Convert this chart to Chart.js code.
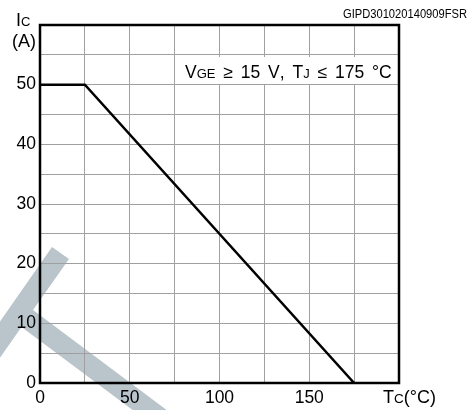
<!DOCTYPE html>
<html>
<head>
<meta charset="utf-8">
<script src="https://cdn.jsdelivr.net/npm/chart.js@4.4.0/dist/chart.umd.min.js"></script>
<style>
  html, body { margin: 0; padding: 0; background: #fff; }
  #chart { display: block; }
</style>
</head>
<body>
<canvas id="chart" width="470" height="410"></canvas>
<script>
// derating curve: collector current vs case temperature
const caseTemp = [0, 25, 175];
const collectorCurrent = [50, 50, 0];

// which grid lines get a number under / beside them
const xTickLabels = [0, 50, 100, 150];
const yTickLabels = [0, 10, 20, 30, 40, 50];

const FONT = '"Liberation Sans", Arial, sans-serif';

function font(size) {
    return size + 'px ' + FONT;
}

// draw text pieces of different sizes on one baseline,
// spaces get `gap` extra pixels
function drawRuns(ctx, runs, x, y, gap = 0) {
    runs.forEach(([text, size]) => {
        ctx.font = font(size);
        for (const ch of text) {
            ctx.fillText(ch, x, y);
            x += ctx.measureText(ch).width + (ch === ' ' ? gap : 0);
        }
    });
    return x;
}

const decorations = {
    id: 'decorations',
    beforeDraw(chart) {
        const ctx = chart.ctx;
        ctx.save();
        ctx.fillStyle = '#fff';
        ctx.fillRect(0, 0, chart.width, chart.height);
        // logo stroke in the lower left
        ctx.fillStyle = '#b9c5cb';
        ctx.beginPath();
        ctx.moveTo(52, 247);
        ctx.lineTo(69, 259);
        ctx.lineTo(33, 310);
        ctx.lineTo(180, 420);
        ctx.lineTo(150, 423);
        ctx.lineTo(21.5, 327);
        ctx.lineTo(-5, 365);
        ctx.lineTo(-22, 353);
        ctx.closePath();
        ctx.fill();
        ctx.restore();
    },
    afterDraw(chart) {
        const ctx = chart.ctx;
        const a = chart.chartArea;
        ctx.save();

        // condition box
        ctx.fillStyle = '#fff';
        ctx.fillRect(176, 57, a.right - 177, 27);
        ctx.fillStyle = '#000';
        ctx.textBaseline = 'alphabetic';
        drawRuns(ctx, [['V', 17.5], ['GE', 13], [' \u2265 15 V, T', 17.5], ['J', 13], [' \u2264 175 \u00b0C', 17.5]], 185, 78, 3);

        // frame
        ctx.strokeStyle = '#000';
        ctx.lineWidth = 2.5;
        ctx.strokeRect(a.left, a.top, a.right - a.left, a.bottom - a.top);

        // axis titles
        drawRuns(ctx, [['I', 18], ['C', 13]], 16, 26);
        ctx.font = font(18);
        ctx.fillText('(A)', 12, 47);
        drawRuns(ctx, [['T', 18], ['C', 13.5], ['(\u00b0C)', 18]], 383, 403);

        // figure code
        ctx.font = font(12.5);
        ctx.textAlign = 'right';
        ctx.fillText('GIPD301020140909FSR', 467, 18, 124);
        ctx.restore();
    }
};

const ctx = document.getElementById('chart');
const chart = new Chart(ctx, {
    type: 'line',
    data: {
        datasets: [{
            data: caseTemp.map((t, i) => ({x: t, y: collectorCurrent[i]})),
            borderColor: '#000',
            borderWidth: 2.5,
            pointRadius: 0,
            fill: false,
            tension: 0
        }]
    },
    options: {
        responsive: false,
        animation: false,
        layout: {
            padding: {top: 25, right: 71, left: 0, bottom: 0}
        },
        plugins: {
            legend: {display: false},
            tooltip: {enabled: false}
        },
        scales: {
            x: {
                type: 'linear',
                min: 0,
                max: 200,
                afterFit: (s) => { s.height = 27; },
                border: {display: false},
                grid: {color: '#a0a0a0', lineWidth: 1, drawTicks: false},
                ticks: {
                    stepSize: 25,
                    padding: 5,
                    color: '#000',
                    font: {family: FONT, size: 17.5},
                    maxRotation: 0,
                    autoSkip: false,
                    callback: (v) => xTickLabels.includes(v) ? String(v) : ''
                }
            },
            y: {
                min: 0,
                max: 60,
                afterFit: (s) => { s.width = 40; },
                border: {display: false},
                grid: {color: '#a0a0a0', lineWidth: 1, drawTicks: false},
                ticks: {
                    stepSize: 5,
                    padding: 4,
                    color: '#000',
                    font: {family: FONT, size: 17.5},
                    autoSkip: false,
                    callback: (v) => yTickLabels.includes(v) ? String(v) : ''
                }
            }
        }
    },
    plugins: [decorations]
});
</script>
</body>
</html>
